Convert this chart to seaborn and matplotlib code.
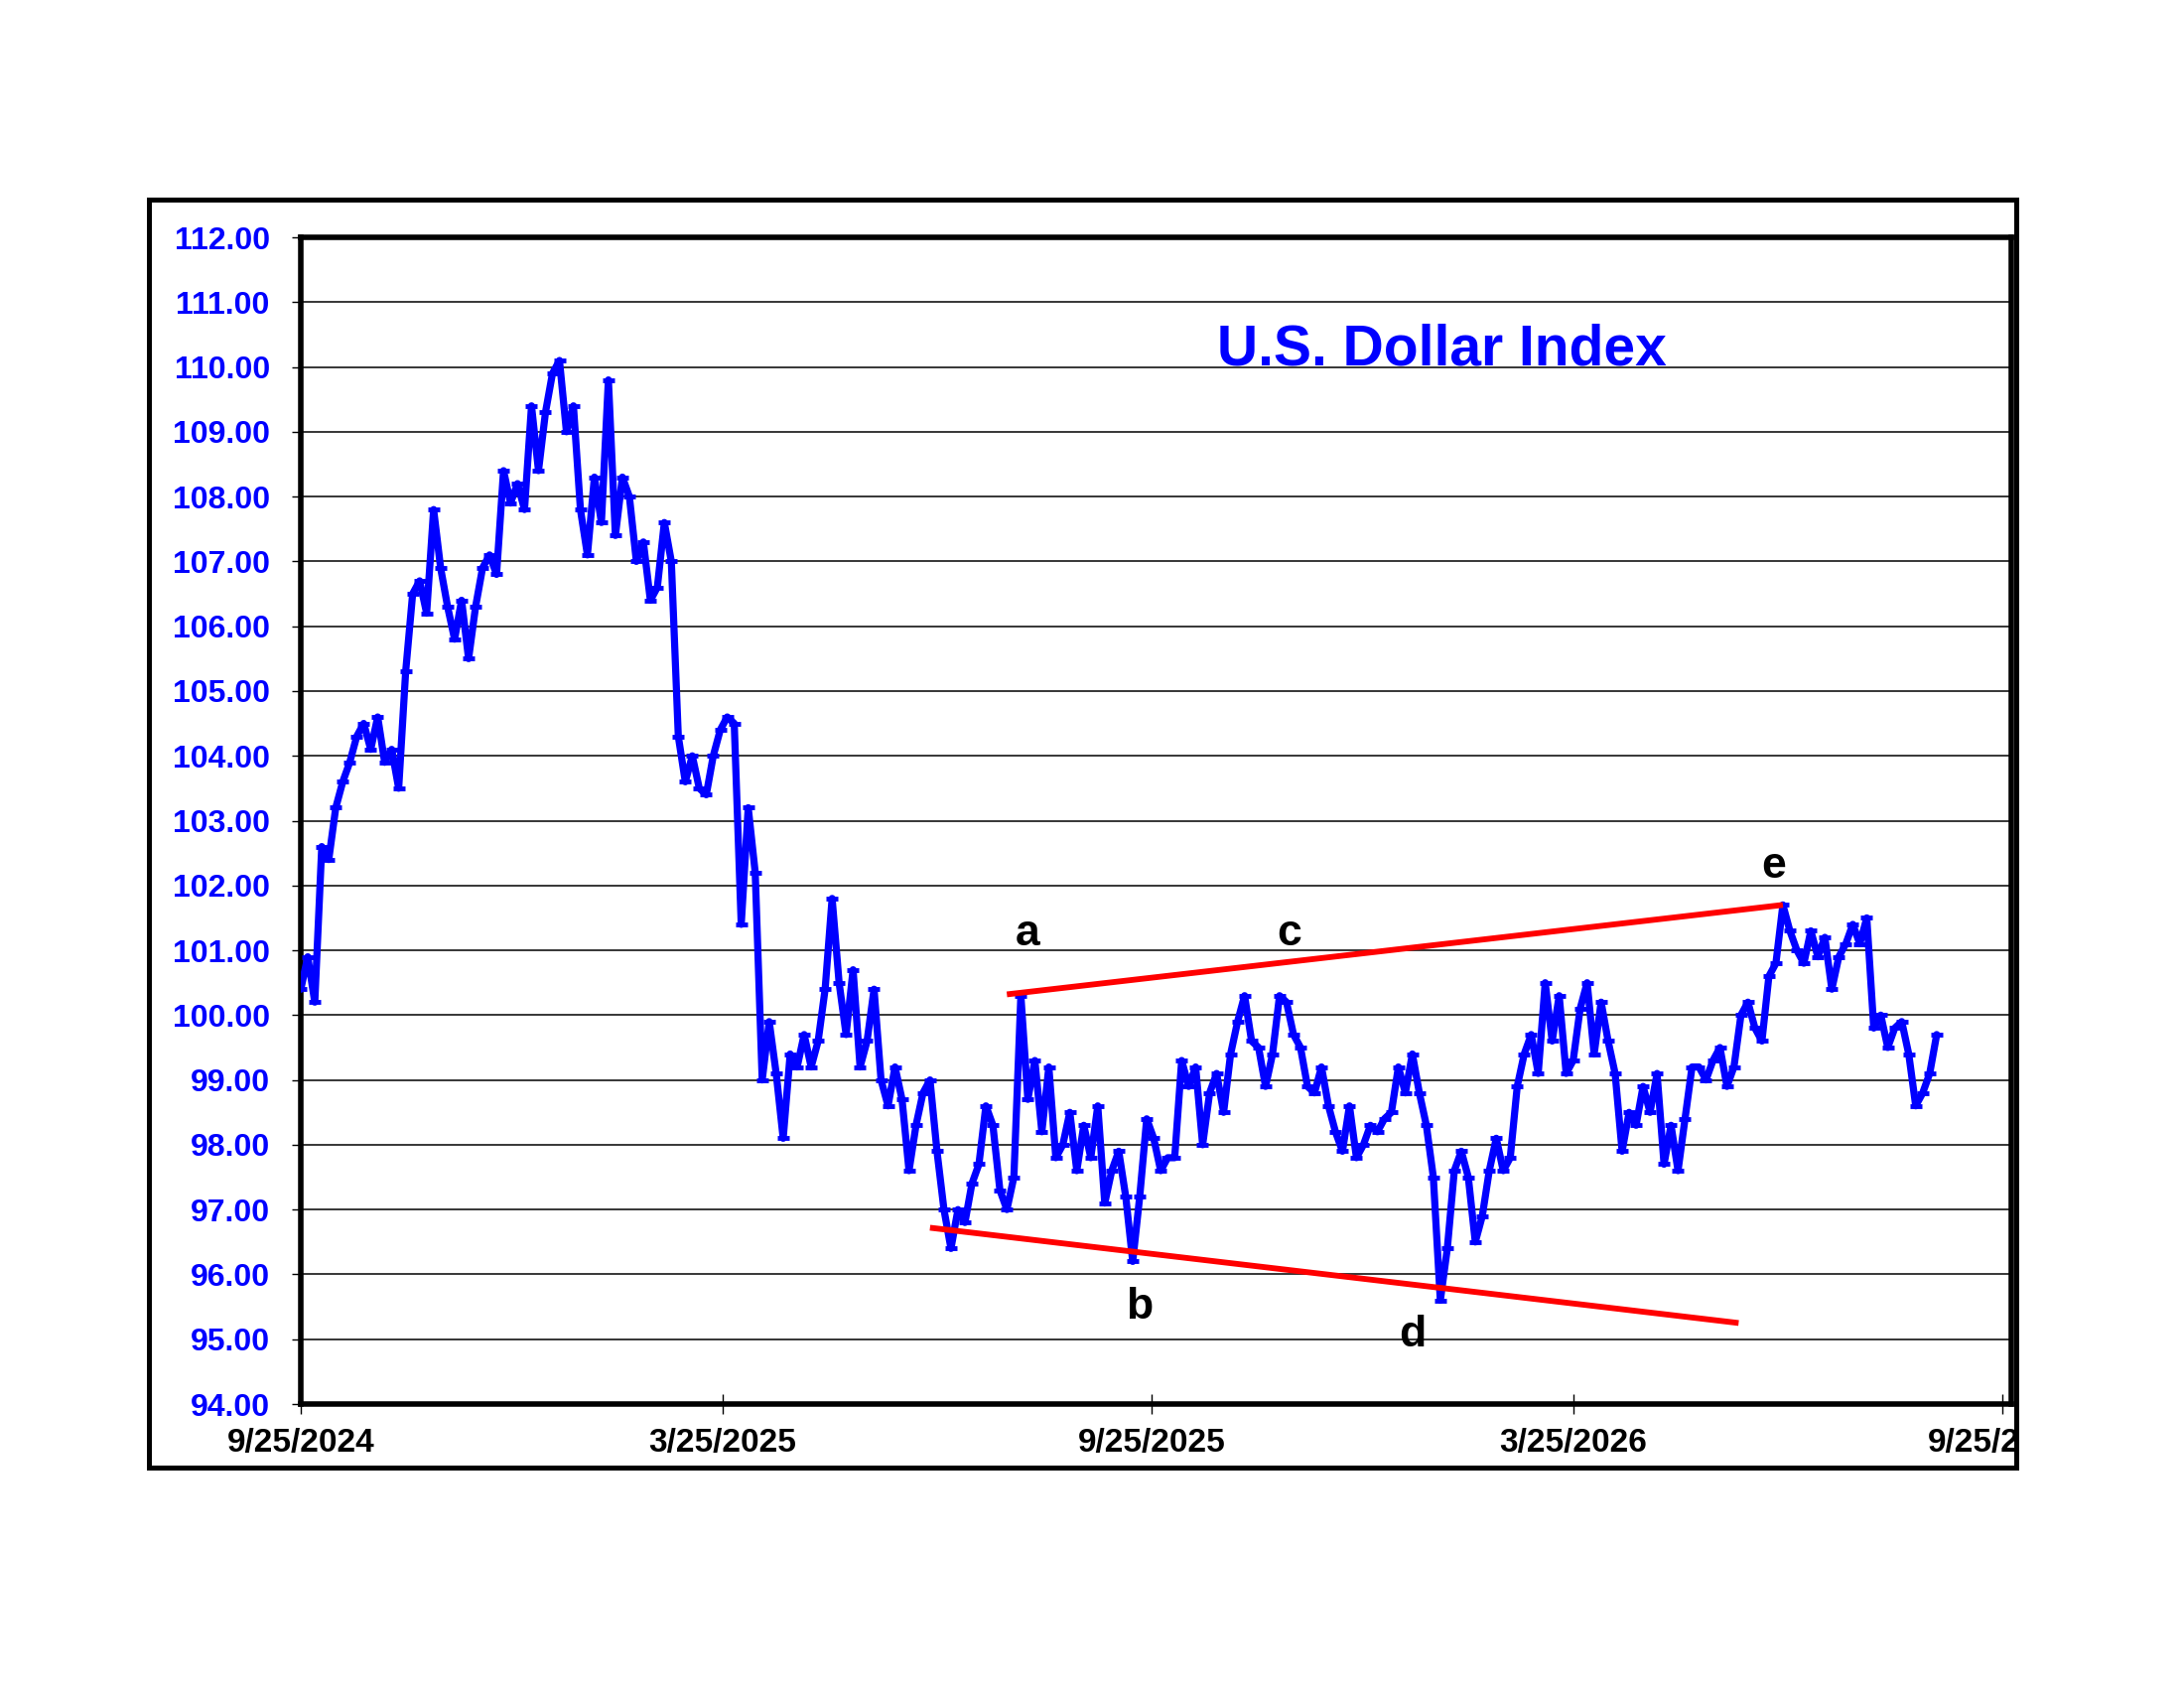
import numpy as np
import pandas as pd
import matplotlib
matplotlib.use("Agg")
import matplotlib.pyplot as plt
from matplotlib.patches import Rectangle
import seaborn as sns

sns.set_style("ticks")
plt.rcParams['font.family'] = ['Liberation Sans', 'DejaVu Sans']
plt.rcParams['font.weight'] = 'bold'

BLUE = '#0000ff'

# U.S. Dollar Index, every 3 calendar days from 9/25/2024
start_date = "2024-09-25"
step_days = 3
dxy_values = [
    100.4, 100.9, 100.2, 102.6, 102.4, 103.2, 103.6, 103.9, 104.3, 104.5,
    104.1, 104.6, 103.9, 104.1, 103.5, 105.3, 106.5, 106.7, 106.2, 107.8,
    106.9, 106.3, 105.8, 106.4, 105.5, 106.3, 106.9, 107.1, 106.8, 108.4,
    107.9, 108.2, 107.8, 109.4, 108.4, 109.3, 109.9, 110.1, 109.0, 109.4,
    107.8, 107.1, 108.3, 107.6, 109.8, 107.4, 108.3, 108.0, 107.0, 107.3,
    106.4, 106.6, 107.6, 107.0, 104.3, 103.6, 104.0, 103.5, 103.4, 104.0,
    104.4, 104.6, 104.5, 101.4, 103.2, 102.2, 99.0, 99.9, 99.1, 98.1,
    99.4, 99.2, 99.7, 99.2, 99.6, 100.4, 101.8, 100.5, 99.7, 100.7,
    99.2, 99.6, 100.4, 99.0, 98.6, 99.2, 98.7, 97.6, 98.3, 98.8,
    99.0, 97.9, 97.0, 96.4, 97.0, 96.8, 97.4, 97.7, 98.6, 98.3,
    97.3, 97.0, 97.5, 100.3, 98.7, 99.3, 98.2, 99.2, 97.8, 98.0,
    98.5, 97.6, 98.3, 97.8, 98.6, 97.1, 97.6, 97.9, 97.2, 96.2,
    97.2, 98.4, 98.1, 97.6, 97.8, 97.8, 99.3, 98.9, 99.2, 98.0,
    98.8, 99.1, 98.5, 99.4, 99.9, 100.3, 99.6, 99.5, 98.9, 99.4,
    100.3, 100.2, 99.7, 99.5, 98.9, 98.8, 99.2, 98.6, 98.2, 97.9,
    98.6, 97.8, 98.0, 98.3, 98.2, 98.4, 98.5, 99.2, 98.8, 99.4,
    98.8, 98.3, 97.5, 95.6, 96.4, 97.6, 97.9, 97.5, 96.5, 96.9,
    97.6, 98.1, 97.6, 97.8, 98.9, 99.4, 99.7, 99.1, 100.5, 99.6,
    100.3, 99.1, 99.3, 100.1, 100.5, 99.4, 100.2, 99.6, 99.1, 97.9,
    98.5, 98.3, 98.9, 98.5, 99.1, 97.7, 98.3, 97.6, 98.4, 99.2,
    99.2, 99.0, 99.3, 99.5, 98.9, 99.2, 100.0, 100.2, 99.8, 99.6,
    100.6, 100.8, 101.7, 101.3, 101.0, 100.8, 101.3, 100.9, 101.2, 100.4,
    100.9, 101.1, 101.4, 101.1, 101.5, 99.8, 100.0, 99.5, 99.8, 99.9,
    99.4, 98.6, 98.8, 99.1, 99.7,
]

# red trend lines
upper_dates = ["2025-07-25", "2026-06-23"]
upper_vals = [100.32, 101.70]
lower_dates = ["2025-06-22", "2026-06-04"]
lower_vals = [96.72, 95.25]

# wave labels (baseline positions)
wave_labels = ["a", "b", "c", "d", "e"]
wave_dates = ["2025-08-03", "2025-09-20", "2025-11-23", "2026-01-15", "2026-06-19"]
wave_vals = [101.07, 95.32, 101.07, 94.89, 102.12]

y_ticks = list(range(94, 113))
x_tick_dates = ["2024-09-25", "2025-03-25", "2025-09-25", "2026-03-25", "2026-09-25"]
x_tick_labels = ["9/25/2024", "3/25/2025", "9/25/2025", "3/25/2026", "9/25/2026"]

df = pd.DataFrame({
    'date': pd.date_range(start_date, periods=len(dxy_values), freq=f"{step_days}D"),
    'value': dxy_values,
})

W, H = 2200, 1700
fig = plt.figure(figsize=(22, 17), dpi=100)
ax = fig.add_axes([303 / W, 1 - 1414 / H, (2026 - 303) / W, (1414 - 239) / H])

ax.yaxis.grid(True, color='black', lw=1.1)
ax.xaxis.grid(False)
ax.set_axisbelow(True)

sns.lineplot(data=df, x='date', y='value', ax=ax, color=BLUE, lw=5.2,
             marker='_', markersize=8, markeredgewidth=3.5, markeredgecolor=BLUE,
             zorder=3)
sns.lineplot(x=pd.to_datetime(upper_dates), y=upper_vals, ax=ax, color='red',
             lw=4.2, solid_capstyle='butt', zorder=4)
sns.lineplot(x=pd.to_datetime(lower_dates), y=lower_vals, ax=ax, color='red',
             lw=4.2, solid_capstyle='butt', zorder=4)

for lab, d, v in zip(wave_labels, wave_dates, wave_vals):
    ax.text(pd.Timestamp(d), v, lab, ha='center', va='baseline', fontsize=32,
            fontweight='bold', color='black', zorder=5)

t0 = pd.Timestamp(start_date)
ax.set_xlim(t0, t0 + pd.Timedelta(days=734))
ax.set_ylim(94, 112)
ax.set_yticks(y_ticks)
ax.set_yticklabels([f"{v:.2f}" for v in y_ticks])
ax.set_xticks(pd.to_datetime(x_tick_dates))
ax.set_xticklabels(x_tick_labels)
ax.set_xlabel('')
ax.set_ylabel('')

ax.tick_params(axis='y', left=True, direction='out', length=6.5, width=1,
               color='black', labelcolor=BLUE, labelsize=23, pad=16)
ax.tick_params(axis='x', bottom=True, direction='inout', length=14, width=1,
               color='black', labelcolor='black', labelsize=24, pad=10)
for lbl in ax.get_xticklabels() + ax.get_yticklabels():
    lbl.set_fontweight('bold')

for side in ['left', 'right', 'top', 'bottom']:
    ax.spines[side].set_visible(True)
    ax.spines[side].set_color('black')
    ax.spines[side].set_linewidth(4)

fig.text(1452 / W, 1 - 368 / H, 'U.S. Dollar Index', ha='center', va='baseline',
         fontsize=41, fontweight='bold', color=BLUE)

# white cover beyond the outer frame (clips the last date label) and the frame
fig.patches.append(Rectangle((2031 / W, 0), 1 - 2031 / W, 1, transform=fig.transFigure,
                             facecolor='white', edgecolor='none', zorder=10))
fig.patches.append(Rectangle((150 / W, 1 - 1478 / H), (2031 - 150) / W, (1478 - 201) / H,
                             transform=fig.transFigure, fill=False,
                             edgecolor='black', lw=3.6, zorder=11))

fig.savefig('out.png', dpi=100, facecolor='white')
